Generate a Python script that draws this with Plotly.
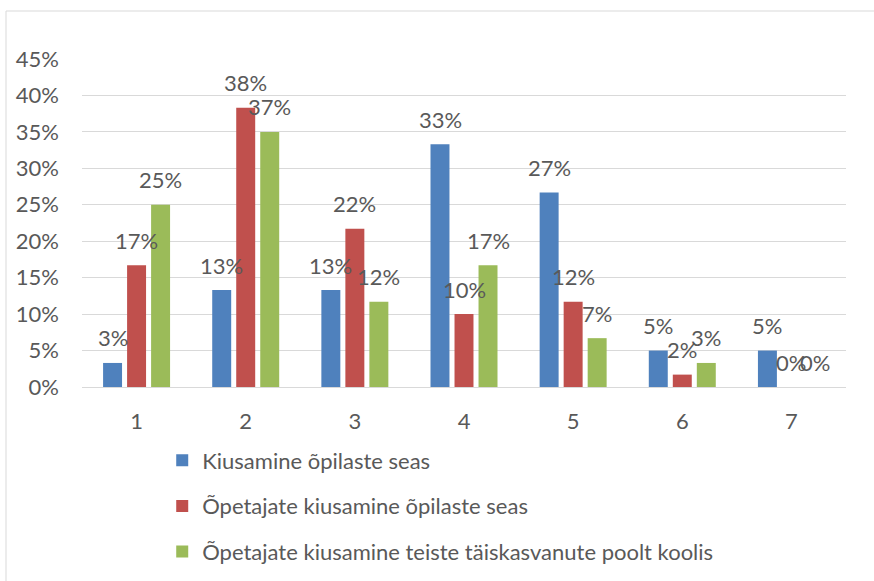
import plotly.graph_objects as go

categories = ["1", "2", "3", "4", "5", "6", "7"]
series_names = [
    "Kiusamine õpilaste seas",
    "Õpetajate kiusamine õpilaste seas",
    "Õpetajate kiusamine teiste täiskasvanute poolt koolis",
]
values_blue = [0.033, 0.133, 0.133, 0.333, 0.267, 0.05, 0.05]
values_red = [0.167, 0.383, 0.217, 0.10, 0.117, 0.017, 0.0]
values_green = [0.25, 0.35, 0.117, 0.167, 0.067, 0.033, 0.0]
labels_blue = ["3%", "13%", "13%", "33%", "27%", "5%", "5%"]
labels_red = ["17%", "38%", "22%", "10%", "12%", "2%", "0%"]
labels_green = ["25%", "37%", "12%", "17%", "7%", "3%", "0%"]
y_ticks = [0, 0.05, 0.10, 0.15, 0.20, 0.25, 0.30, 0.35, 0.40, 0.45]

colors = ["#4F81BD", "#C0504D", "#9BBB59"]
FONT = "Lato"
TXT = "#595959"

W, H = 874, 581
L, R, T, B = 82, 28, 59, 194
pw, ph = W - L - R, H - T - B

fig = go.Figure()
all_vals = [values_blue, values_red, values_green]
all_labels = [labels_blue, labels_red, labels_green]
for i, (name, vals) in enumerate(zip(series_names, all_vals)):
    fig.add_trace(go.Bar(
        x=categories, y=vals, name=name, marker_color=colors[i],
        marker_line_width=0, legendgroup=f"g{i}",
    ))

annotations = []
slot = 24
for i, (vals, labs) in enumerate(zip(all_vals, all_labels)):
    for j, (v, t) in enumerate(zip(vals, labs)):
        annotations.append(dict(
            x=j, y=v, xref="x", yref="y", text=t, showarrow=False,
            xshift=(i - 1) * slot, yshift=25, yanchor="middle",
            font=dict(family=FONT, size=22, color=TXT),
        ))

fig.update_layout(
    width=W, height=H,
    margin=dict(l=L, r=R, t=T, b=B, autoexpand=False),
    paper_bgcolor="white", plot_bgcolor="white",
    barmode="group", bargap=0.34, bargroupgap=0.21,
    font=dict(family=FONT, size=22, color=TXT),
    showlegend=True,
    legend=dict(
        orientation="v", x=0.105, y=-0.16, xanchor="left", yanchor="top",
        font=dict(family=FONT, size=22, color=TXT),
        tracegroupgap=14, traceorder="grouped",
        bgcolor="rgba(0,0,0,0)",
    ),
    annotations=annotations,
    shapes=[dict(
        type="rect", xref="paper", yref="paper",
        x0=(6 - L) / pw, x1=1.2, y0=-1.0, y1=(H - B - 11) / ph,
        line=dict(color="#D9D9D9", width=1), layer="below",
    )],
)
fig.update_yaxes(
    range=[0, 0.45], tickvals=y_ticks, tickformat=".0%",
    showgrid=True, gridcolor="#D9D9D9", gridwidth=1,
    zeroline=False, showline=False, ticks="", ticklabelstandoff=22,
    tickfont=dict(family=FONT, size=22, color=TXT),
)
fig.update_xaxes(
    range=[-0.5, 6.5],
    showline=True, linecolor="#D9D9D9", linewidth=1,
    ticks="", ticklabelstandoff=15,
    tickfont=dict(family=FONT, size=22, color=TXT),
)

fig.write_html("out.html", config={"displayModeBar": False},
               post_script="document.body.style.margin='0';")
